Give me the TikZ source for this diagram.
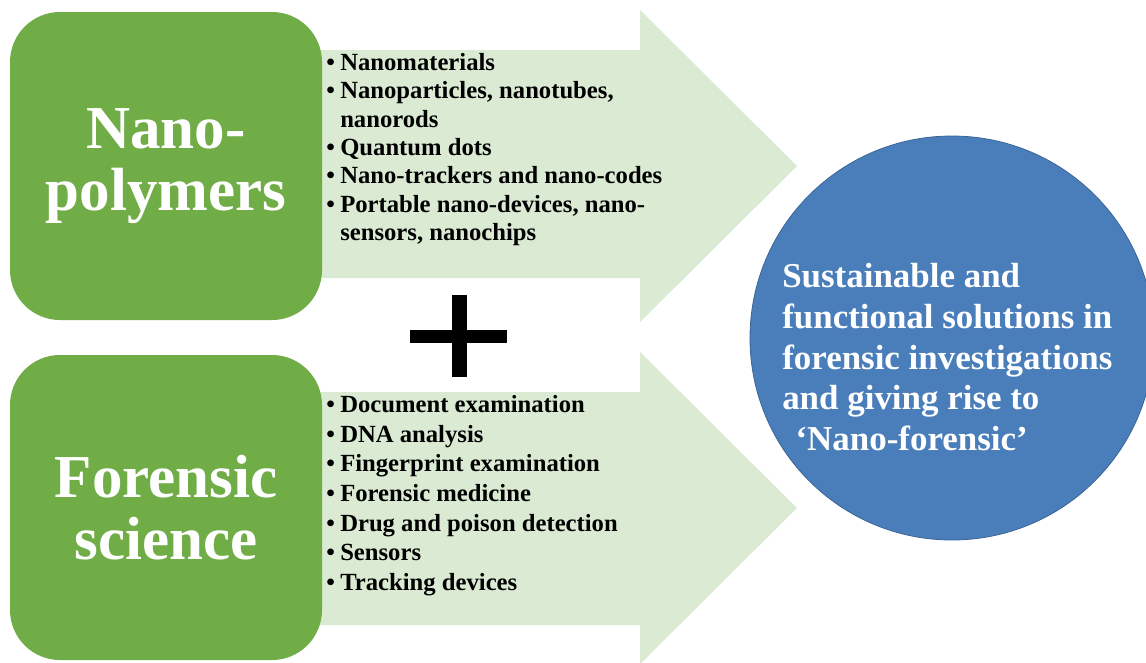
\documentclass[tikz,border=0pt]{standalone}
\usepackage{fontspec}
\setmainfont{Liberation Serif}
\usepackage{tikz}
\usetikzlibrary{positioning,calc}
\definecolor{boxgreen}{HTML}{70AD47}
\definecolor{arrowgreen}{HTML}{DAEAD3}
\definecolor{circblue}{HTML}{4A7EBB}
\definecolor{circline}{HTML}{3A6496}
\tikzstyle{greenbox}=[fill=boxgreen, rounded corners=37.5pt, minimum width=234pt, inner sep=0pt, text=white, align=center, font=\fontsize{45.75}{46}\selectfont\bfseries]
\tikzstyle{bullets}=[anchor=north west, inner sep=0pt, align=left, font=\fontsize{18.5}{21.25}\selectfont\bfseries]
\tikzstyle{bigarrow}=[fill=arrowgreen]
\newcommand{\bul}{\llap{\textbullet\hspace{4pt}}}

\begin{document}
\begin{tikzpicture}[x=0.75pt, y=-0.75pt]

\useasboundingbox (0,0) rectangle (1146,662);
\fill[white] (0,0) rectangle (1146,662);

% arrows
\fill[bigarrow] (300,50) -- (640,50) -- (640,10) -- (797,166) -- (640,322) -- (640,278) -- (300,278) -- cycle;
\fill[bigarrow] (300,392) -- (640,392) -- (640,352) -- (797,508) -- (640,664) -- (640,625) -- (300,625) -- cycle;

% boxes
\node[greenbox, minimum height=231pt] (nano) at (166,166) {Nano-\\polymers};
\node[greenbox, minimum height=228.75pt] (forensic) at (166,507.5) {Forensic\\science};

% lists
\node[bullets] (nanolist) at (340,53) {\bul Nanomaterials\\ \bul Nanoparticles, nanotubes,\\ nanorods\\ \bul Quantum dots\\ \bul Nano-trackers and nano-codes\\ \bul Portable nano-devices, nano-\\ sensors, nanochips};
\node[bullets, font=\fontsize{18.5}{22.25}\selectfont\bfseries] (forlist) at (340,395) {\bul Document examination\\ \bul DNA analysis\\ \bul Fingerprint examination\\ \bul Forensic medicine\\ \bul Drug and poison detection\\ \bul Sensors\\ \bul Tracking devices};

% plus
\fill (410,330) rectangle (507,343);
\fill (452,295) rectangle (467,377);

% result
\node[circle, fill=circblue, draw=circline, line width=0.6pt, minimum size=303pt, inner sep=0pt] (goal) at (952,338) {};
\node[anchor=north west, inner sep=0pt, text=white, align=left, font=\fontsize{26.2}{30.6}\selectfont\bfseries] (goaltext) at (782,263) {Sustainable and\\ functional solutions in\\ forensic investigations\\ and giving rise to\\ \hspace*{10pt}‘Nano-forensic’};

\end{tikzpicture}
\end{document}
